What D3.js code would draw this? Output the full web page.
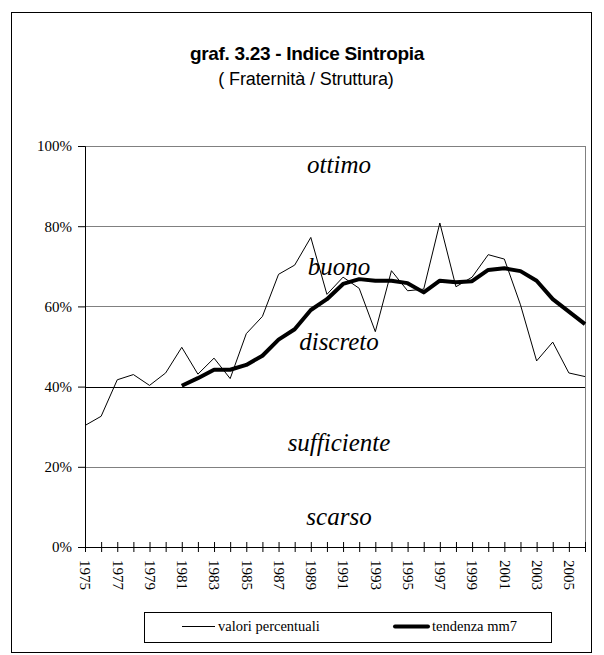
<!DOCTYPE html>
<html>
<head>
<meta charset="utf-8">
<script src="https://cdn.jsdelivr.net/npm/d3@7"></script>
<style>
  body { margin: 0; background: #fff; }
</style>
</head>
<body>
<div id="chart"></div>
<script>
// Data
var years = d3.range(1975, 2007);
var valori = [30.3, 32.6, 41.7, 43.0, 40.3, 43.4, 49.8, 43.1, 47.1, 42.0,
              53.2, 57.5, 68.0, 70.3, 77.2, 63.0, 67.3, 64.5, 53.7, 68.9,
              63.9, 64.3, 80.8, 64.9, 67.3, 72.9, 71.8, 60.4, 46.4, 51.1,
              43.4, 42.5];
// moving average (mm7), starts in 1981
var tendenza = [null, null, null, null, null, null,
                40.2, 42.1, 44.2, 44.2, 45.4, 47.7, 51.7, 54.3, 59.1, 61.8,
                65.6, 66.8, 66.4, 66.4, 65.8, 63.5, 66.4, 66.0, 66.3, 69.1,
                69.5, 68.8, 66.4, 61.8, 58.7, 55.6];
var yTicks = [0, 20, 40, 60, 80, 100];
var zones = ["ottimo", "buono", "discreto", "sufficiente", "scarso"];
var zoneLevels = [93.3, 67.8, 49.1, 23.9, 5.5];

var serif = "'Liberation Serif', 'Times New Roman', serif";
var sans = "'Liberation Sans', Arial, sans-serif";

var svgWidth = 604;
var svgHeight = 655;
var margin = { top: 146, right: 19, bottom: 108, left: 85 };
var width = svgWidth - margin.left - margin.right;
var height = svgHeight - margin.top - margin.bottom;

var svg = d3.select("#chart")
  .append("svg")
  .attr("width", svgWidth)
  .attr("height", svgHeight);

// outer frame
svg.append("rect")
  .attr("x", 11.5).attr("y", 12.5)
  .attr("width", 580).attr("height", 640)
  .attr("fill", "none").attr("stroke", "#000");

// titles
svg.append("text")
  .attr("x", 307).attr("y", 60)
  .attr("text-anchor", "middle")
  .style("font-family", sans)
  .style("font-weight", "bold").style("font-size", "19px")
  .style("letter-spacing", "-0.3px")
  .text("graf. 3.23 - Indice Sintropia");
svg.append("text")
  .attr("x", 306).attr("y", 85)
  .attr("text-anchor", "middle")
  .style("font-family", sans)
  .style("font-size", "18px")
  .style("letter-spacing", "-0.1px")
  .text("( Fraternità / Struttura)");

var g = svg.append("g")
  .attr("transform", `translate(${margin.left}, ${margin.top})`);

var x = d3.scaleLinear()
  .domain([1975, 2006])
  .range([0, width]);
var y = d3.scaleLinear()
  .domain([0, 100])
  .range([height, 0]);

// gridlines
g.selectAll(".grid")
  .data(yTicks.filter(d => d > 0))
  .enter()
  .append("line")
  .attr("x1", 0).attr("x2", width)
  .attr("y1", d => Math.round(y(d)) + 0.5)
  .attr("y2", d => Math.round(y(d)) + 0.5)
  .attr("stroke", d => d === 40 ? "#000" : "#808080")
  .attr("stroke-width", 1);

// right border of plot area
g.append("line")
  .attr("x1", width + 0.5).attr("x2", width + 0.5)
  .attr("y1", Math.round(y(100))).attr("y2", height)
  .attr("stroke", "#808080");

// zone labels
g.selectAll(".zone")
  .data(zones)
  .enter()
  .append("text")
  .attr("x", width / 2 + 4)
  .attr("y", (d, i) => y(zoneLevels[i]))
  .attr("text-anchor", "middle")
  .style("font-family", serif)
  .style("font-style", "italic")
  .style("font-size", "25px")
  .text(d => d);

// y axis
var yAxis = d3.axisLeft(y)
  .tickValues(yTicks)
  .tickSize(7)
  .tickFormat(d => d + "%");
var yg = g.append("g").call(yAxis)
  .attr("font-family", serif)
  .attr("font-size", 15);
yg.select(".domain").attr("stroke", "#000");
yg.selectAll("text")
  .attr("x", -13)
  .attr("fill", "#000");

// x axis
var xAxis = d3.axisBottom(x)
  .tickValues(years)
  .tickSize(6)
  .tickSizeOuter(0)
  .tickFormat(d => (d - 1975) % 2 === 0 ? d : "");
var xg = g.append("g")
  .attr("transform", `translate(0, ${height})`)
  .call(xAxis)
  .attr("font-family", serif)
  .attr("font-size", 15);
xg.selectAll(".tick line").attr("y1", -5).attr("y2", 5);
xg.selectAll("text")
  .attr("fill", "#000")
  .attr("y", 0)
  .attr("dy", "0.35em")
  .attr("text-anchor", "start")
  .attr("transform", "translate(0, 13) rotate(90)");

// series
var line = d3.line()
  .defined(d => d[1] != null)
  .x(d => x(d[0]))
  .y(d => y(d[1]));

g.append("path")
  .datum(years.map((yr, i) => [yr, valori[i]]))
  .attr("d", line)
  .attr("fill", "none")
  .attr("stroke", "#000")
  .attr("stroke-width", 1);

g.append("path")
  .datum(years.map((yr, i) => [yr, tendenza[i]]))
  .attr("d", line)
  .attr("fill", "none")
  .attr("stroke", "#000")
  .attr("stroke-width", 4)
  .attr("stroke-linejoin", "round");

// legend
var leg = svg.append("g")
  .attr("font-family", serif)
  .attr("font-size", 14.5);
leg.append("rect")
  .attr("x", 144.5).attr("y", 612.5)
  .attr("width", 407).attr("height", 30)
  .attr("fill", "#fff").attr("stroke", "#000");
leg.append("line")
  .attr("x1", 182).attr("x2", 215)
  .attr("y1", 626.5).attr("y2", 626.5)
  .attr("stroke", "#000").attr("stroke-width", 1);
leg.append("text")
  .attr("x", 218).attr("y", 631)
  .text("valori percentuali");
leg.append("line")
  .attr("x1", 395).attr("x2", 428)
  .attr("y1", 626.5).attr("y2", 626.5)
  .attr("stroke", "#000").attr("stroke-width", 4)
  .attr("stroke-linecap", "round");
leg.append("text")
  .attr("x", 432).attr("y", 631)
  .text("tendenza mm7");
</script>
</body>
</html>
